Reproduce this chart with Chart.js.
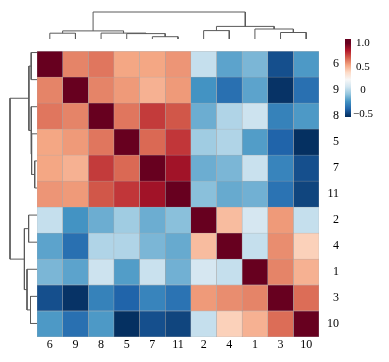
<!DOCTYPE html>
<html>
<head>
<meta charset="utf-8">
<script src="https://cdn.jsdelivr.net/npm/chart.js@4"></script>
<style>
  body { margin: 0; background: #fff; }
  #wrap { position: relative; width: 389px; height: 362px; }
  canvas { position: absolute; }
</style>
</head>
<body>
<div id="wrap">
  <canvas id="topTree" width="282" height="39" style="left:37px;top:0"></canvas>
  <canvas id="leftTree" width="37" height="298" style="left:0;top:39px"></canvas>
  <canvas id="heat" width="302" height="323" style="left:37px;top:39px"></canvas>
  <canvas id="cbar" width="44" height="98" style="left:345px;top:29px"></canvas>
</div>
<script>
// ---- data (leaf order as clustered) ----
const labels = ["6", "9", "8", "5", "7", "11", "2", "4", "1", "3", "10"];

const corr = [
  [ 1.00,  0.61,  0.64,  0.53,  0.53,  0.57,  0.04, -0.19, -0.13, -0.46, -0.22],
  [ 0.61,  1.00,  0.61,  0.56,  0.50,  0.56, -0.24, -0.36, -0.19, -0.54, -0.36],
  [ 0.64,  0.61,  1.00,  0.64,  0.77,  0.71, -0.16, -0.01,  0.06, -0.30, -0.22],
  [ 0.53,  0.56,  0.64,  1.00,  0.67,  0.78, -0.05, -0.01, -0.21, -0.40, -0.55],
  [ 0.53,  0.50,  0.77,  0.67,  1.00,  0.88, -0.16, -0.13,  0.05, -0.29, -0.46],
  [ 0.57,  0.56,  0.71,  0.78,  0.88,  1.00, -0.10, -0.17, -0.15, -0.35, -0.49],
  [ 0.04, -0.24, -0.16, -0.05, -0.16, -0.10,  1.00,  0.47,  0.09,  0.56,  0.04],
  [-0.19, -0.36, -0.01, -0.01, -0.13, -0.17,  0.47,  1.00,  0.04,  0.59,  0.41],
  [-0.13, -0.19,  0.06, -0.21,  0.05, -0.15,  0.09,  0.04,  1.00,  0.61,  0.50],
  [-0.46, -0.54, -0.30, -0.40, -0.29, -0.35,  0.56,  0.59,  0.61,  1.00,  0.66],
  [-0.22, -0.36, -0.22, -0.55, -0.46, -0.49,  0.04,  0.41,  0.50,  0.66,  1.00]
];

// merges: [a, b, height]; strings are leaves, numbers point to earlier merges
const linkage = [
  ["7", "11", 2.3],
  ["5", 0, 5.4],
  ["6", "9", 5.8],
  ["8", 1, 5.9],
  ["3", "10", 6.5],
  [2, 3, 8.1],
  ["2", "4", 8.4],
  ["1", 4, 10.0],
  [6, 7, 12.6],
  [5, 8, 27.0]
];
const treeTop = 39;   // height axis extent of top tree
const treeSide = 37;  // height axis extent of left tree

const cbarTicks = [-0.5, 0, 0.5, 1.0];
const cbarRange = [-0.57, 1.09];

// RdBu_r
const rdbuR = ["#053061", "#2166ac", "#4393c3", "#92c5de", "#d1e5f0", "#f7f7f7",
               "#fddbc7", "#f4a582", "#d6604d", "#b2182b", "#67001f"];

const vmin = Math.min(...corr.flat());
const vmax = Math.max(...corr.flat());

function hexRgb(h) {
  return [1, 3, 5].map(i => parseInt(h.slice(i, i + 2), 16));
}
function colorOf(v) {
  let t = (v - vmin) / (vmax - vmin);
  t = Math.max(0, Math.min(1, t)) * (rdbuR.length - 1);
  const k = Math.min(Math.floor(t), rdbuR.length - 2);
  const f = t - k;
  const a = hexRgb(rdbuR[k]), b = hexRgb(rdbuR[k + 1]);
  const c = a.map((x, i) => Math.round(x + (b[i] - x) * f));
  return `rgb(${c[0]},${c[1]},${c[2]})`;
}

const font = { family: "'Liberation Serif', 'DejaVu Serif', serif", size: 12 };
Chart.defaults.color = "#000";

const base = {
  responsive: false,
  animation: false,
  events: [],
  plugins: { legend: { display: false }, tooltip: { enabled: false } },
  layout: { padding: 0 }
};

// ---- dendrogram links ----
function buildLinks() {
  const nodes = [];
  const info = (n) => typeof n === "string"
    ? { pos: labels.indexOf(n) + 0.5, h: 0 }
    : nodes[n];
  const links = [];
  linkage.forEach(([a, b, h]) => {
    const A = info(a), B = info(b);
    links.push([[A.pos, A.h], [A.pos, h], [B.pos, h], [B.pos, B.h]]);
    nodes.push({ pos: (A.pos + B.pos) / 2, h });
  });
  return links;
}
const links = buildLinks();

function treeSets(swap) {
  return links.map(pts => ({
    data: pts.map(([p, h]) => swap ? { x: h, y: p } : { x: p, y: h }),
    showLine: true,
    borderColor: "#5a5a5a",
    borderWidth: 1,
    pointRadius: 0,
    clip: false
  }));
}

new Chart(document.getElementById("topTree"), {
  type: "scatter",
  data: { datasets: treeSets(false) },
  options: {
    ...base,
    scales: {
      x: { type: "linear", min: 0, max: labels.length, display: false },
      y: { type: "linear", min: 0, max: treeTop, display: false }
    }
  }
});

new Chart(document.getElementById("leftTree"), {
  type: "scatter",
  data: { datasets: treeSets(true) },
  options: {
    ...base,
    scales: {
      x: { type: "linear", min: 0, max: treeSide, reverse: true, display: false },
      y: { type: "linear", min: 0, max: labels.length, reverse: true, display: false }
    }
  }
});

// ---- heatmap ----
const cellSets = labels.map((col, j) => ({
  label: col,
  data: labels.map(() => [j, j + 1]),
  backgroundColor: labels.map((row, i) => colorOf(corr[i][j])),
  borderColor: "#a8a8a8",
  borderWidth: 0.5,
  borderSkipped: false,
  barPercentage: 1,
  categoryPercentage: 1,
  grouped: false
}));

new Chart(document.getElementById("heat"), {
  type: "bar",
  data: { labels: labels, datasets: cellSets },
  options: {
    ...base,
    indexAxis: "y",
    scales: {
      y: {
        type: "category",
        position: "right",
        grid: { display: false, drawTicks: false },
        border: { display: false },
        ticks: { font, padding: 5, crossAlign: "far", autoSkip: false },
        afterFit: s => { s.width = 20; }
      },
      x: {
        type: "linear",
        min: 0,
        max: labels.length,
        position: "bottom",
        grid: { display: false, drawTicks: false },
        border: { display: false },
        afterBuildTicks: s => { s.ticks = labels.map((l, j) => ({ value: j + 0.5 })); },
        ticks: {
          font, padding: 1, maxRotation: 0, autoSkip: false,
          callback: v => labels[Math.floor(v)]
        },
        afterFit: s => { s.height = 25; }
      }
    }
  }
});

// ---- colour bar ----
function barGradient(ctx) {
  const chart = ctx.chart;
  if (!chart.chartArea) return null;
  const y = chart.scales.y;
  const g = chart.ctx.createLinearGradient(0, y.getPixelForValue(vmin), 0, y.getPixelForValue(vmax));
  rdbuR.forEach((c, k) => g.addColorStop(k / (rdbuR.length - 1), c));
  return g;
}

new Chart(document.getElementById("cbar"), {
  type: "bar",
  data: {
    labels: [""],
    datasets: [{
      data: [cbarRange],
      backgroundColor: barGradient,
      borderWidth: 0,
      barPercentage: 1,
      categoryPercentage: 1
    }]
  },
  options: {
    ...base,
    layout: { padding: { top: 10, bottom: 10 } },
    scales: {
      x: { display: false },
      y: {
        position: "right",
        min: cbarRange[0],
        max: cbarRange[1],
        grid: { display: false, drawTicks: false },
        border: { display: false },
        afterBuildTicks: s => { s.ticks = cbarTicks.map(v => ({ value: v })); },
        afterFit: s => { s.width = 38; },
        ticks: {
          font: { ...font, size: 11 },
          padding: 2,
          crossAlign: "center",
          callback: v => v < 0 ? "\u2212" + Math.abs(v).toFixed(1) : (v === 0 ? "0" : v.toFixed(1))
        }
      }
    }
  }
});
</script>
</body>
</html>
